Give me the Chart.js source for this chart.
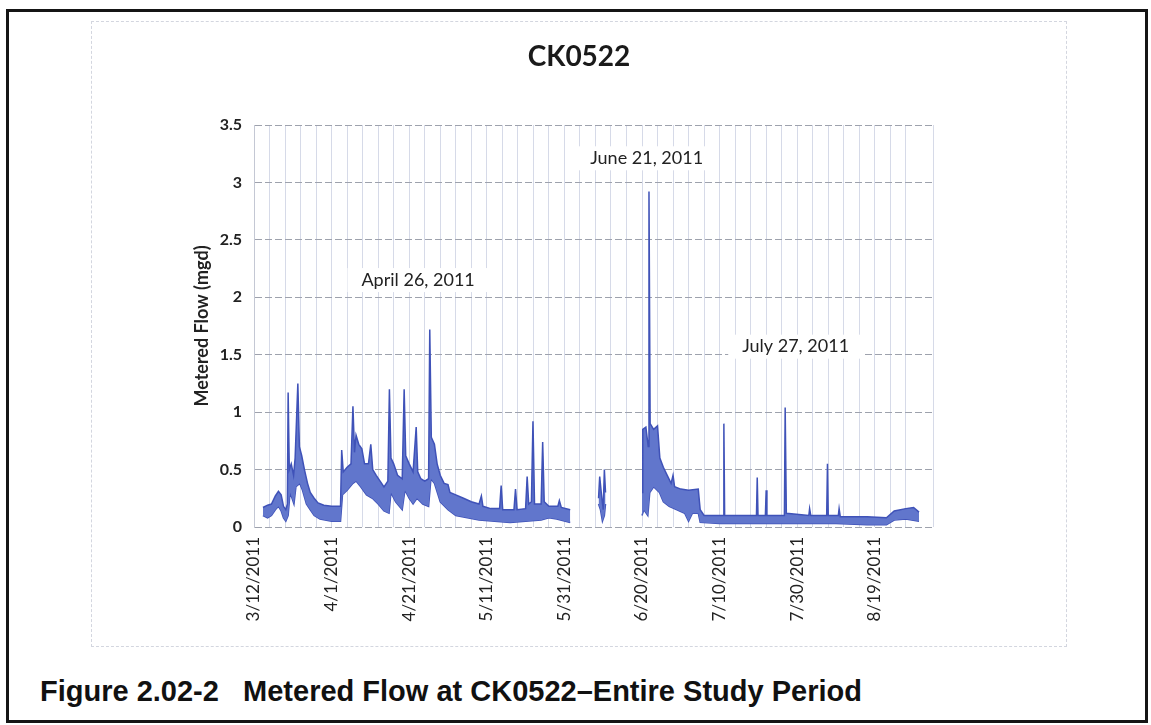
<!DOCTYPE html>
<html>
<head>
<meta charset="utf-8">
<title>CK0522 metered flow</title>
<script src="https://cdn.jsdelivr.net/npm/chart.js@4.4.0/dist/chart.umd.min.js"></script>
<style>
  body { margin: 0; background: #fff; width: 1151px; height: 725px; overflow: hidden; position: relative; }
  #page-box { position: absolute; left: 6px; top: 9px; width: 1142px; height: 714px; border: 3px solid #151515; box-sizing: border-box; }
  #chart-frame { position: absolute; left: 91px; top: 21px; width: 976px; height: 626px; border: 1px dashed #d3d6df; box-sizing: border-box; }
  #flowChart { display: block; }
  #caption { position: absolute; left: 40px; top: 677px; font: bold 29px "Liberation Sans", Arial, sans-serif; line-height: 1; white-space: pre; color: #111; }
</style>
</head>
<body>
<div id="page-box"></div>
<div id="chart-frame"><canvas id="flowChart" width="974" height="624"></canvas></div>
<div id="caption">Figure 2.02-2   Metered Flow at CK0522–Entire Study Period</div>

<script>
// Days are counted from 3/12/2011 (day 0)
const xTickDays = [0, 20, 40, 60, 80, 100, 120, 140, 160];
const xTickLabels = ['3/12/2011', '4/1/2011', '4/21/2011', '5/11/2011', '5/31/2011', '6/20/2011', '7/10/2011', '7/30/2011', '8/19/2011'];
const yTickValues = [0, 0.5, 1, 1.5, 2, 2.5, 3, 3.5];

// Daily high envelope of the metered flow, [day, mgd]; null = no record
const flowHigh = [
  [2.3, 0.17], [3.5, 0.19], [4.5, 0.2], [5.5, 0.27], [6.3, 0.31], [7, 0.28], [7.6, 0.18], [8.2, 0.15],
  [8.6, 0.2], [8.8, 1.17], [9.1, 0.5], [9.6, 0.55], [10.2, 0.45], [10.6, 0.6], [11.3, 1.25], [11.7, 0.7],
  [12.3, 0.62], [13, 0.5], [13.8, 0.38], [14.5, 0.3], [15.5, 0.25], [16.5, 0.21], [18, 0.19], [20, 0.18],
  [22.3, 0.18], [22.6, 0.67], [23, 0.48], [24, 0.52], [25, 0.55], [25.5, 1.05], [25.9, 0.65], [26.3, 0.8],
  [27, 0.72], [27.8, 0.68], [28.5, 0.55], [29.5, 0.55], [30.1, 0.72], [30.6, 0.5], [31.5, 0.45], [32.5, 0.4],
  [33.5, 0.35], [34.5, 0.4], [34.9, 1.2], [35.3, 0.6], [36, 0.55], [37, 0.45], [38.2, 0.42], [38.7, 1.2],
  [39.1, 0.62], [40, 0.55], [41, 0.48], [41.8, 0.87], [42.2, 0.48], [43, 0.42], [44, 0.4], [45, 0.42],
  [45.3, 1.72], [45.7, 0.78], [46.5, 0.72], [47.2, 0.55], [48, 0.45], [49, 0.38], [50, 0.37], [50.5, 0.3],
  [52, 0.28], [54, 0.25], [56, 0.22], [58, 0.2], [58.6, 0.27], [59, 0.18], [61, 0.16], [63.3, 0.16],
  [63.7, 0.36], [64.1, 0.15], [67, 0.15], [67.4, 0.33], [67.8, 0.15], [70, 0.16], [70.4, 0.44], [70.8, 0.2],
  [71.5, 0.22], [71.9, 0.92], [72.3, 0.2], [74, 0.2], [74.4, 0.74], [74.8, 0.22], [76, 0.18], [78.3, 0.18],
  [78.7, 0.23], [79.2, 0.17], [81.5, 0.15],
  [85, null],
  [88.8, 0.25], [89.1, 0.44], [89.5, 0.3], [90, 0.15], [90.3, 0.5], [90.6, 0.3],
  [95, null],
  [100, 0.3], [100.2, 0.85], [101, 0.87], [101.6, 0.7], [101.8, 2.92], [102.1, 0.9], [103, 0.85], [104, 0.88],
  [104.6, 0.6], [105.5, 0.52], [106.5, 0.45], [107.5, 0.38], [108, 0.45], [108.4, 0.35], [110, 0.33], [112, 0.32],
  [114.5, 0.33], [115, 0.15], [116, 0.1], [121, 0.1], [121.1, 0.9], [121.3, 0.1], [129.5, 0.1], [129.7, 0.43],
  [129.9, 0.1], [131.8, 0.1], [132, 0.32], [132.2, 0.1], [136.7, 0.1], [136.9, 1.04], [137.2, 0.12], [143, 0.1],
  [143.2, 0.16], [143.5, 0.1], [147.6, 0.1], [147.8, 0.55], [148, 0.1], [150.6, 0.1], [150.8, 0.16], [151.1, 0.09],
  [158, 0.09], [163, 0.08], [165, 0.14], [168, 0.16], [170, 0.17], [171.4, 0.13]
];

// Daily low envelope, same layout
const flowLow = [
  [2.3, 0.1], [3.5, 0.08], [4.5, 0.1], [5.5, 0.15], [6.3, 0.18], [7, 0.14], [7.6, 0.08], [8.2, 0.05],
  [8.8, 0.1], [9.3, 0.3], [10.3, 0.2], [10.8, 0.35], [11.8, 0.38], [12.5, 0.32], [13.5, 0.2], [14.5, 0.15],
  [15.5, 0.1], [17, 0.07], [20, 0.05], [22.3, 0.05], [22.8, 0.28], [24, 0.32], [25.5, 0.38], [26.3, 0.4],
  [27.5, 0.35], [29, 0.28], [30.5, 0.25], [32, 0.2], [33.5, 0.14], [34.8, 0.12], [35.3, 0.3], [36.5, 0.22],
  [38.2, 0.15], [38.9, 0.32], [40, 0.25], [41, 0.2], [42, 0.25], [43.5, 0.2], [45, 0.18], [45.6, 0.42],
  [46.5, 0.38], [48, 0.22], [50, 0.15], [52, 0.1], [55, 0.08], [58, 0.06], [62, 0.05], [66, 0.04],
  [70, 0.05], [74, 0.06], [76, 0.08], [78, 0.07], [81.5, 0.04],
  [85, null],
  [88.8, 0.2], [89.3, 0.15], [89.8, 0.05], [90.3, 0.1], [90.6, 0.2],
  [95, null],
  [100, 0.1], [100.5, 0.15], [101.5, 0.1], [102, 0.3], [103, 0.35], [104.5, 0.3], [105.5, 0.22], [107, 0.18],
  [109, 0.15], [111, 0.12], [112, 0.05], [113, 0.12], [114.5, 0.12], [115, 0.04], [120, 0.03], [130, 0.03],
  [140, 0.03], [150, 0.03], [158, 0.02], [163, 0.02], [165, 0.06], [168, 0.07], [171.4, 0.05]
];

const peakLabels = ['April 26, 2011', 'June 21, 2011', 'July 27, 2011'];

const toPoints = rows => rows.map(r => ({ x: r[0], y: r[1] }));

// where each peak label sits, in axis units (day, mgd)
const labelAnchors = [[42.3, 2.15], [101.2, 3.21], [139.6, 1.57]];

const decor = {
  id: 'decor',
  beforeDatasetsDraw(chart) {
    const { ctx, scales: { x, y } } = chart;
    ctx.save();
    ctx.font = '18px Lato';
    ctx.textAlign = 'center';
    ctx.textBaseline = 'middle';
    peakLabels.forEach((txt, i) => {
      const px = x.getPixelForValue(labelAnchors[i][0]);
      const py = y.getPixelForValue(labelAnchors[i][1]);
      const w = ctx.measureText(txt).width;
      ctx.fillStyle = '#fff';
      ctx.fillRect(px - w / 2 - 14, py - 12, w + 28, 24);
      ctx.fillStyle = '#222';
      ctx.fillText(txt, px, py);
    });
    ctx.restore();
  },
  afterDraw(chart) {
    const { ctx, width } = chart;
    ctx.save();
    ctx.font = 'bold 28px Lato';
    ctx.fillStyle = '#1a1a1a';
    ctx.textAlign = 'center';
    ctx.textBaseline = 'middle';
    ctx.fillText('CK0522', width / 2, 35);
    ctx.restore();
  }
};

const ctxFlow = document.getElementById('flowChart');

const flowChart = new Chart(ctxFlow, {
  type: 'line',
  data: {
    datasets: [{
      label: 'high',
      data: toPoints(flowHigh),
      borderColor: '#3f52b8',
      backgroundColor: '#6176cc',
      borderWidth: 1.5,
      pointRadius: 0,
      tension: 0,
      fill: '+1'
    }, {
      label: 'low',
      data: toPoints(flowLow),
      borderColor: '#3f52b8',
      borderWidth: 1.5,
      pointRadius: 0,
      tension: 0,
      fill: false
    }]
  },
  options: {
    responsive: false,
    animation: false,
    layout: { padding: { left: 80, right: 133, top: 103, bottom: 9 } },
    plugins: {
      legend: { display: false },
      tooltip: { enabled: false }
    },
    scales: {
      x: {
        type: 'linear',
        min: 0,
        max: 175,
        afterFit: s => { s.height = 110; },
        grid: { color: '#d6dae8', drawTicks: false },
        border: { display: false },
        ticks: {
          stepSize: 4,
          autoSkip: false,
          minRotation: 90,
          maxRotation: 90,
          padding: 10,
          color: '#222',
          font: { family: 'Lato', size: 17 },
          callback: v => {
            const i = xTickDays.indexOf(v);
            return i >= 0 ? xTickLabels[i] : '';
          }
        }
      },
      y: {
        min: 0,
        max: 3.5,
        afterFit: s => { s.width = 82; },
        afterBuildTicks: s => { s.ticks = yTickValues.map(v => ({ value: v })); },
        grid: { color: '#9ea2ad', drawTicks: false },
        border: { color: '#c4c8d4', dash: [7, 3] },
        ticks: {
          padding: 12,
          color: '#222',
          font: { family: 'Lato', size: 16, weight: 'bold' },
          callback: v => String(v)
        },
        title: {
          display: true,
          text: 'Metered Flow (mgd)',
          color: '#222',
          font: { family: 'Lato', size: 18, weight: 'bold' },
          padding: { top: 19, bottom: 0 }
        }
      }
    }
  },
  plugins: [decor]
});
</script>
</body>
</html>
